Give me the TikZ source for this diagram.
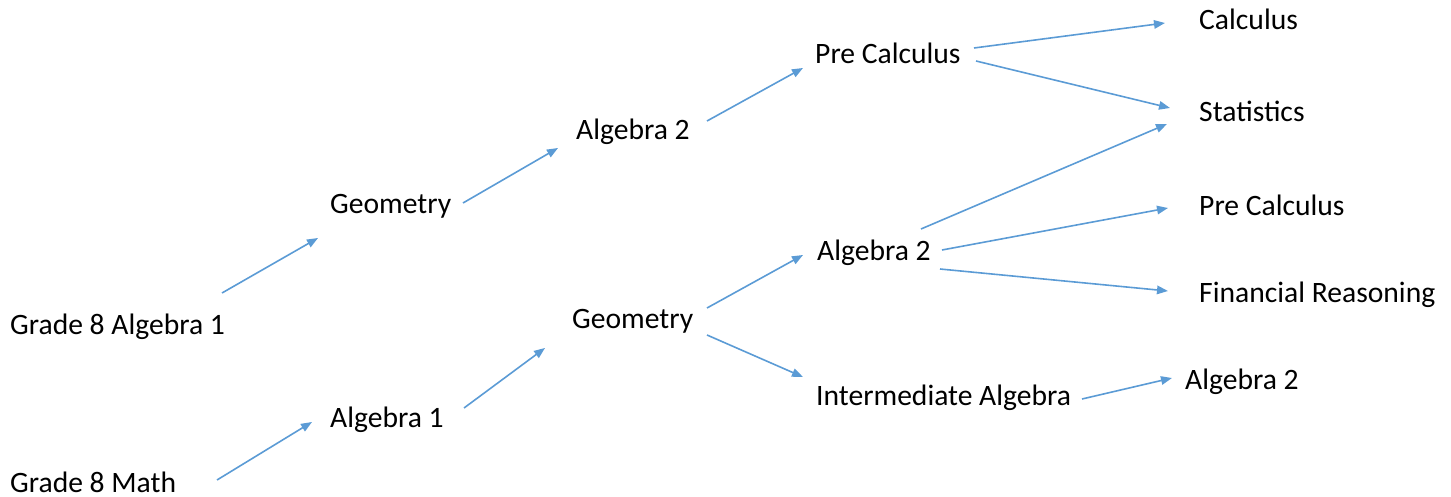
\documentclass[tikz,border=0pt]{standalone}
\usepackage{fontspec}
\setmainfont{Carlito}
\usetikzlibrary{arrows.meta}
\definecolor{arrblue}{RGB}{91,155,213}
\begin{document}
\begin{tikzpicture}[x=1pt,y=-1pt,
  lbl/.style={anchor=base west,inner sep=0pt,font=\fontsize{29.6}{35}\selectfont},
  arr/.style={draw=arrblue,line width=1.6pt,-{Triangle[length=11pt,width=8.5pt]}}]
\useasboundingbox (0,0) rectangle (1451,497);
\node[lbl] (g8a1) at (10,334) {Grade 8 Algebra 1};
\node[lbl] (g8m) at (10,492) {Grade 8 Math};
\node[lbl] (geo1) at (330,214) {Geometry};
\node[lbl] (alg1) at (330,427) {Algebra 1};
\node[lbl] (alg2a) at (576,140) {Algebra 2};
\node[lbl] (geo2) at (572,328) {Geometry};
\node[lbl] (pc1) at (815,64) {Pre Calculus};
\node[lbl] (alg2b) at (817,260) {Algebra 2};
\node[lbl] (inter) at (816,405) {Intermediate Algebra};
\node[lbl] (calc) at (1199,30) {Calculus};
\node[lbl] (stat) at (1199,122) {Statistics};
\node[lbl] (pc2) at (1199,216) {Pre Calculus};
\node[lbl] (fin) at (1199,302) {Financial Reasoning};
\node[lbl] (alg2c) at (1185,389) {Algebra 2};
\draw[arr] ([shift={(212,-41)}]g8a1.base west) -- ([shift={(-12,24)}]geo1.base west);
\draw[arr] ([shift={(207,-12)}]g8m.base west) -- ([shift={(-18,-5)}]alg1.base west);
\draw[arr] ([shift={(133,-11)}]geo1.base west) -- ([shift={(-18,8)}]alg2a.base west);
\draw[arr] ([shift={(134,-19)}]alg1.base west) -- ([shift={(-27,20)}]geo2.base west);
\draw[arr] ([shift={(131,-19)}]alg2a.base west) -- ([shift={(-12,4)}]pc1.base west);
\draw[arr] ([shift={(135,-20)}]geo2.base west) -- ([shift={(-14,-5)}]alg2b.base west);
\draw[arr] ([shift={(135,7)}]geo2.base west) -- ([shift={(-13,-28)}]inter.base west);
\draw[arr] ([shift={(159,-16)}]pc1.base west) -- ([shift={(-34,-7)}]calc.base west);
\draw[arr] ([shift={(161,-3)}]pc1.base west) -- ([shift={(-29,-14)}]stat.base west);
\draw[arr] ([shift={(104,-31)}]alg2b.base west) -- ([shift={(-32,2)}]stat.base west);
\draw[arr] ([shift={(125,-10)}]alg2b.base west) -- ([shift={(-31,-8)}]pc2.base west);
\draw[arr] ([shift={(123,9)}]alg2b.base west) -- ([shift={(-31,-11)}]fin.base west);
\draw[arr] ([shift={(266,-6)}]inter.base west) -- ([shift={(-13,-11)}]alg2c.base west);
\end{tikzpicture}
\end{document}
